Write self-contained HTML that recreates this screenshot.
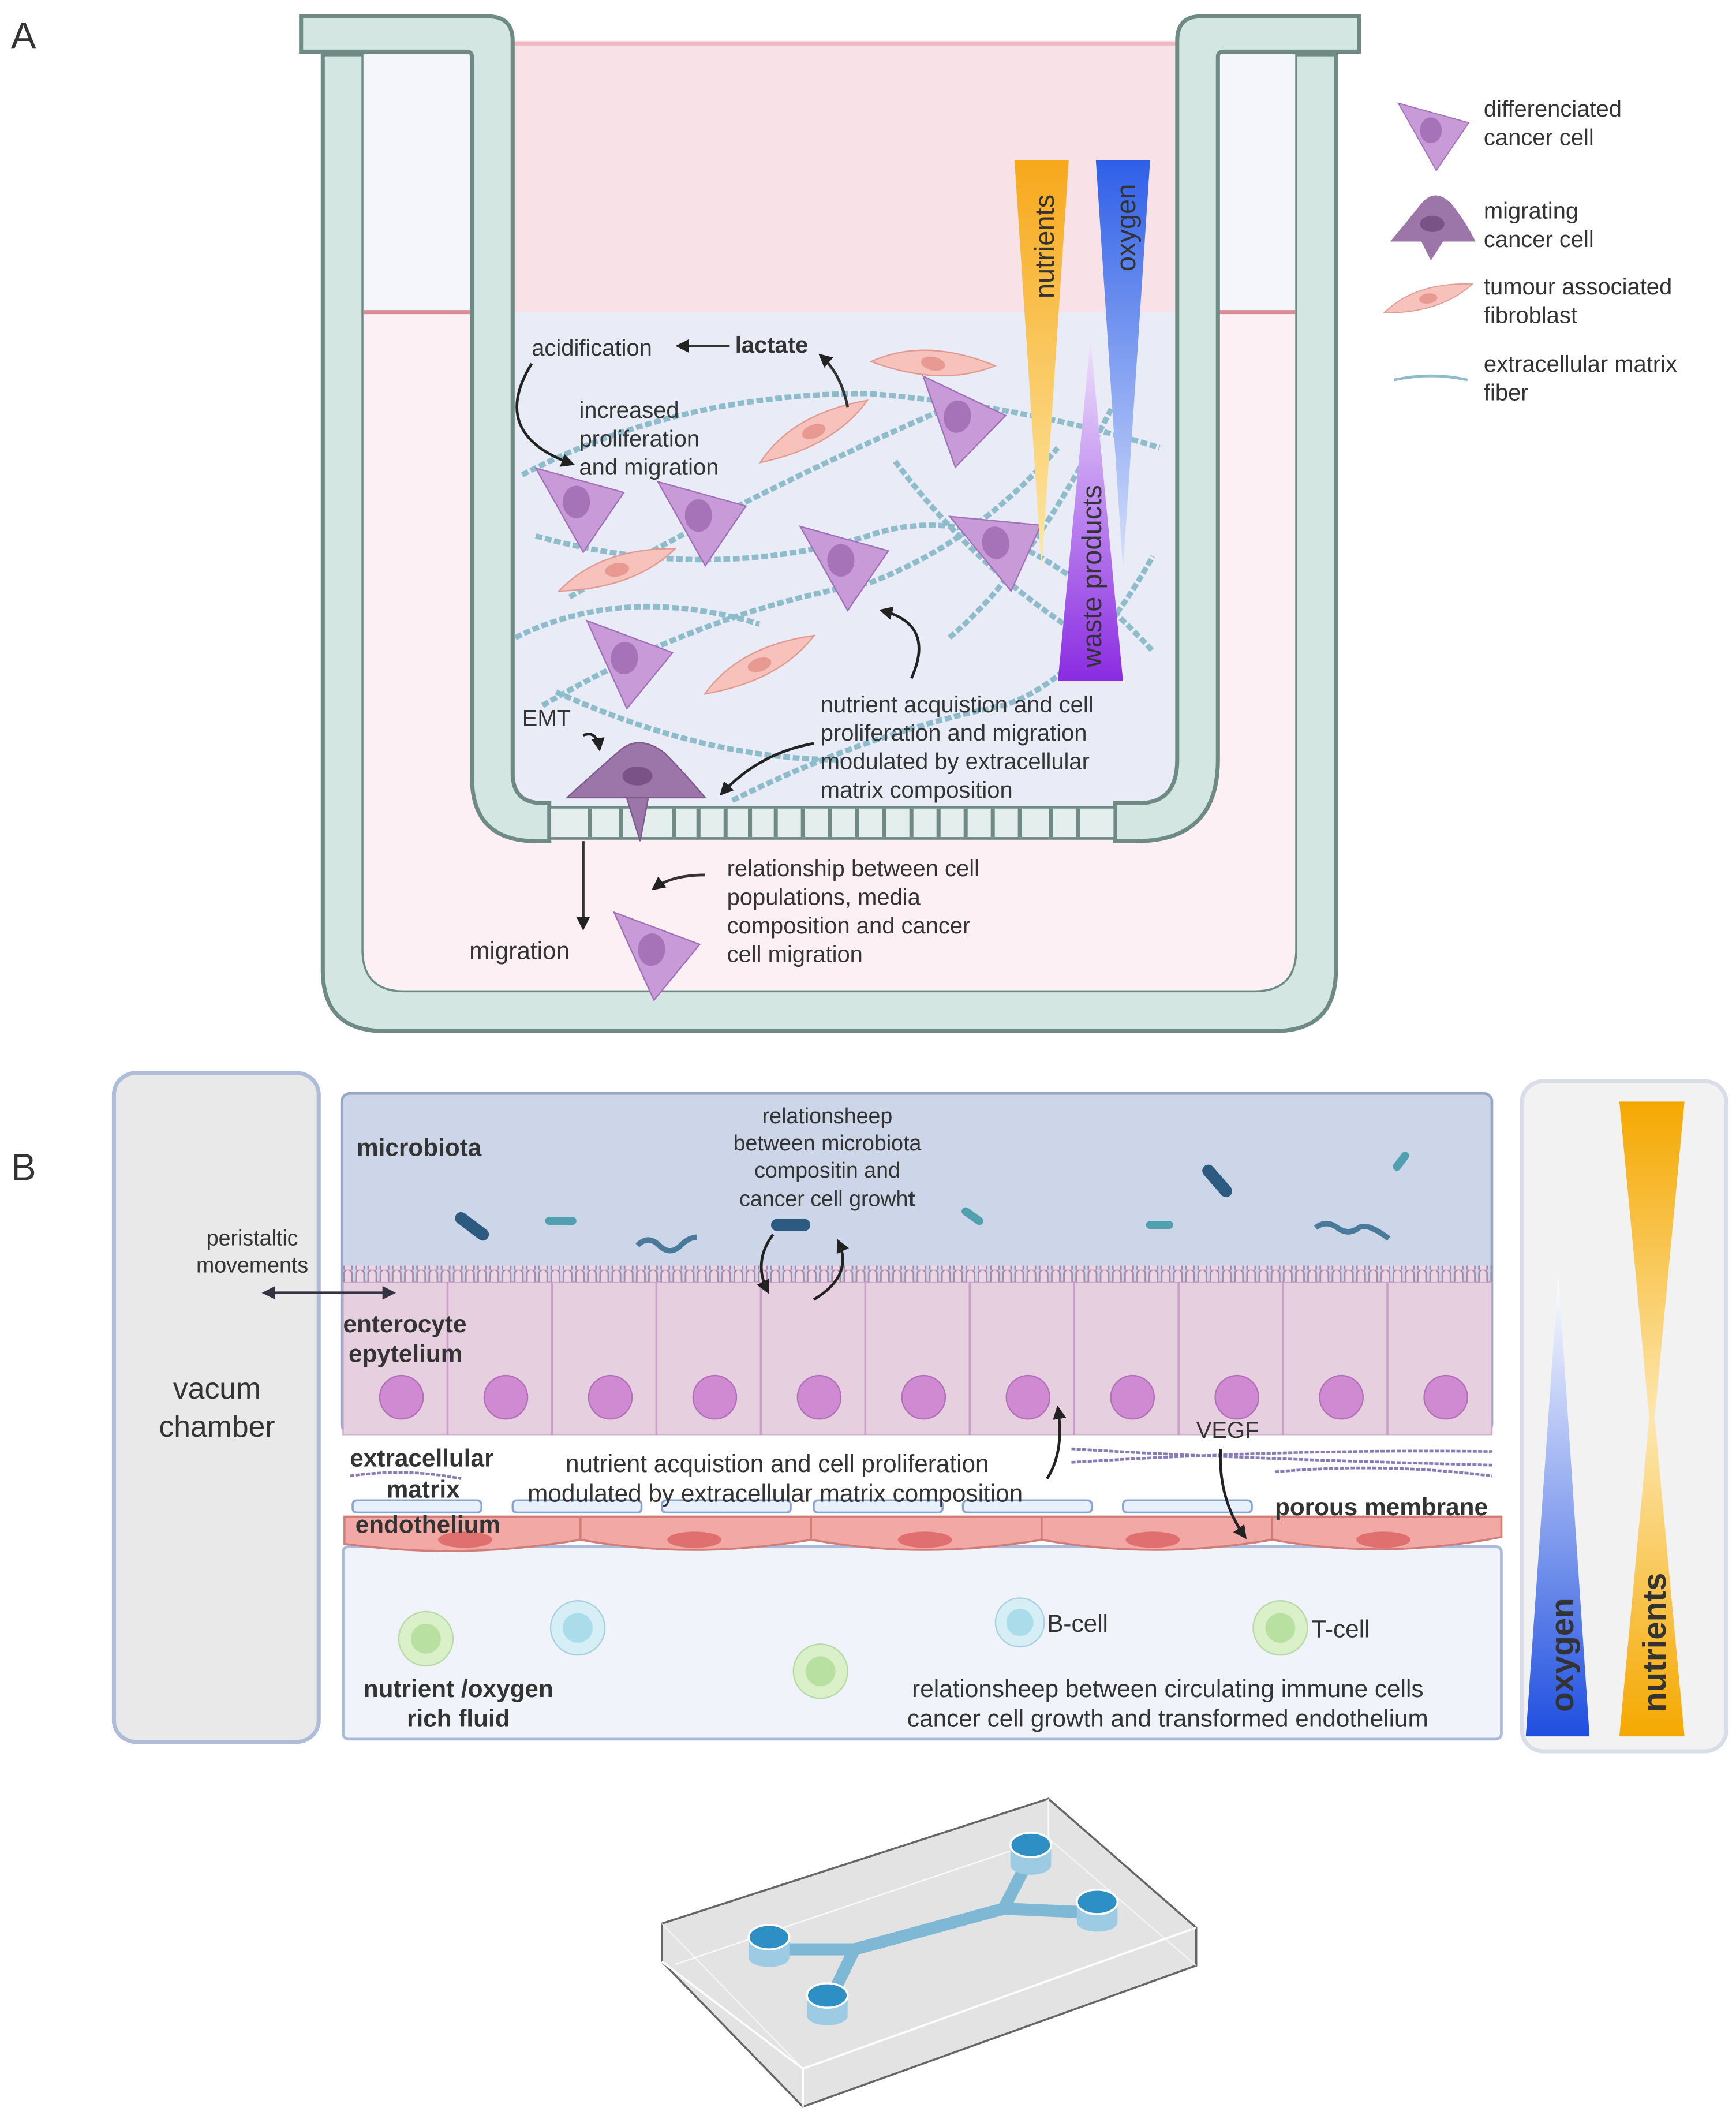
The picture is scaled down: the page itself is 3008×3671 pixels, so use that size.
<!DOCTYPE html>
<html><head><meta charset="utf-8"><style>
html,body{margin:0;padding:0;background:#fff}
svg{display:block}
text{font-family:"Liberation Sans",sans-serif;fill:#333}
</style></head><body>
<svg width="3008" height="3671" viewBox="0 0 1280 1562" xmlns="http://www.w3.org/2000/svg">
<defs>
<linearGradient id="gy" x1="0" y1="0" x2="0" y2="1"><stop offset="0" stop-color="#f7a81b"/><stop offset="1" stop-color="#fde9a8"/></linearGradient>
<linearGradient id="gb" x1="0" y1="0" x2="0" y2="1"><stop offset="0" stop-color="#2e5fe8"/><stop offset="1" stop-color="#d8e2fb"/></linearGradient>
<linearGradient id="gp" x1="0" y1="1" x2="0" y2="0"><stop offset="0" stop-color="#8a2be2"/><stop offset="1" stop-color="#efe3fb"/></linearGradient>
<linearGradient id="gb2" x1="0" y1="1" x2="0" y2="0"><stop offset="0" stop-color="#1f4fe0"/><stop offset="1" stop-color="#ffffff"/></linearGradient>
<linearGradient id="gy2" x1="0" y1="0" x2="0" y2="1"><stop offset="0" stop-color="#f5a800"/><stop offset="0.5" stop-color="#fde7b0"/><stop offset="1" stop-color="#f5a800"/></linearGradient>
<marker id="ar" viewBox="0 0 10 10" refX="8" refY="5" markerWidth="5" markerHeight="5" orient="auto"><path d="M0,0L10,5L0,10z" fill="#222"/></marker>
<marker id="ar2" viewBox="0 0 10 10" refX="8" refY="5" markerWidth="5" markerHeight="5" orient="auto-start-reverse"><path d="M0,0L10,5L0,10z" fill="#334"/></marker>
<g id="cc"><path d="M-30,-30 L35,-12 L5,32 Z" fill="#c99ad8" stroke="#a070b8" stroke-width="1"/><ellipse cx="0" cy="-5" rx="10" ry="12" fill="#a672b8"/></g>
<g id="fb"><path d="M-45,8 Q-10,-18 45,-8 Q10,16 -45,8Z" fill="#f6c2bb" stroke="#e09a92"/><ellipse cx="0" cy="0" rx="9" ry="5" fill="#e89a92"/></g>
<pattern id="villi" width="9" height="12" patternUnits="userSpaceOnUse"><path d="M1.5,12 V3 A3,3 0 0 1 7.5,3 V12" fill="#ead6e4" stroke="#a887a8" stroke-width="1.2"/></pattern>
</defs>

<text x="8" y="36" font-size="28" fill="#222">A</text>

<!-- outer well -->
<path d="M238,40 L238,715 Q238,760 283,760 L940,760 Q985,760 985,715 L985,40 L955,40 L955,700 Q955,730 925,730 L298,730 Q268,730 268,700 L268,40 Z" fill="#d3e6e2" stroke="#6f8a85" stroke-width="3"/>
<rect x="268" y="40" width="687" height="190" fill="#f4f6fb"/>
<path d="M268,230 L955,230 L955,700 Q955,730 925,730 L298,730 Q268,730 268,700Z" fill="#fcf0f5"/>
<line x1="268" y1="230" x2="955" y2="230" stroke="#d98a94" stroke-width="3"/>

<!-- insert inside -->
<path d="M378,30 L868,30 L868,570 Q868,595 845,595 L395,595 Q378,595 378,580Z" fill="#e9ecf7"/>
<rect x="378" y="30" width="490" height="200" fill="#f9e2e7"/>
<line x1="378" y1="32" x2="868" y2="32" stroke="#f0b8c0" stroke-width="3"/>
<!-- insert walls -->
<path d="M222,12 L360,12 Q378,12 378,30 L378,570 Q378,592 400,592 L405,592 L405,620 L395,620 Q348,620 348,573 L348,42 Q348,38 344,38 L222,38Z" fill="#d3e6e2" stroke="#6f8a85" stroke-width="3"/>
<path d="M1002,12 L885,12 Q868,12 868,30 L868,560 Q868,592 840,592 L822,592 L822,620 L838,620 Q898,620 898,560 L898,42 Q898,38 902,38 L1002,38Z" fill="#d3e6e2" stroke="#6f8a85" stroke-width="3"/>
<!-- membrane -->
<rect x="405" y="595" width="417" height="23" fill="#e4eeec" stroke="#6f8a85" stroke-width="2"/>
<g stroke="#6f8a85" stroke-width="3">
<line x1="435" y1="596" x2="435" y2="617"/><line x1="458" y1="596" x2="458" y2="617"/><line x1="497" y1="596" x2="497" y2="617"/><line x1="515" y1="596" x2="515" y2="617"/><line x1="535" y1="596" x2="535" y2="617"/><line x1="553" y1="596" x2="553" y2="617"/><line x1="572" y1="596" x2="572" y2="617"/><line x1="592" y1="596" x2="592" y2="617"/><line x1="612" y1="596" x2="612" y2="617"/><line x1="632" y1="596" x2="632" y2="617"/><line x1="652" y1="596" x2="652" y2="617"/><line x1="672" y1="596" x2="672" y2="617"/><line x1="692" y1="596" x2="692" y2="617"/><line x1="712" y1="596" x2="712" y2="617"/><line x1="732" y1="596" x2="732" y2="617"/><line x1="752" y1="596" x2="752" y2="617"/><line x1="775" y1="596" x2="775" y2="617"/><line x1="795" y1="596" x2="795" y2="617"/>
</g>

<!-- fibers -->
<g stroke="#8fbccb" stroke-width="4" stroke-dasharray="5,2" fill="none">
<path d="M385,350 Q500,290 640,290 Q760,300 855,330"/>
<path d="M395,395 Q520,430 640,395 Q740,360 850,480"/>
<path d="M420,440 Q560,360 700,300"/>
<path d="M400,520 Q520,450 640,430 Q720,400 780,330"/>
<path d="M660,340 Q720,420 800,470"/>
<path d="M380,470 Q460,430 560,460"/>
<path d="M540,590 Q640,540 740,520 Q800,500 850,410"/>
<path d="M410,510 Q520,560 620,560"/>
<path d="M700,470 Q760,420 820,300"/>
</g>
<use href="#fb" transform="translate(688,268) rotate(12)"/>
<use href="#fb" transform="translate(600,318) rotate(-20)"/>
<use href="#fb" transform="translate(455,420) rotate(-10)"/>
<use href="#fb" transform="translate(560,490) rotate(-18)"/>
<use href="#cc" transform="translate(425,375)"/>
<use href="#cc" transform="translate(515,385)"/>
<use href="#cc" transform="translate(620,418)"/>
<use href="#cc" transform="translate(735,405) rotate(-10)"/>
<use href="#cc" transform="translate(705,312) rotate(10)"/>
<use href="#cc" transform="translate(460,490) rotate(5)"/>
<use href="#cc" transform="translate(480,705) rotate(5)"/>
<path d="M418,588 Q440,568 455,555 Q470,540 490,555 Q505,570 520,588 Z M462,588 L478,588 L472,620 Z" fill="#9c76a8" stroke="#7d5a8a"/>
<ellipse cx="470" cy="572" rx="11" ry="7" fill="#7a5288"/>

<path d="M748,118 L788,118 L768,420Z" fill="url(#gy)"/>
<path d="M808,118 L848,118 L828,420Z" fill="url(#gb)"/>
<path d="M780,502 L828,502 L804,250Z" fill="url(#gp)"/>
<text transform="translate(777,220) rotate(-90)" font-size="20" fill="#fff">nutrients</text>
<text transform="translate(837,200) rotate(-90)" font-size="20" fill="#fff">oxygen</text>
<text transform="translate(812,492) rotate(-90)" font-size="20" fill="#fff">waste products</text>

<text x="392" y="262" font-size="17">acidification</text>
<text x="542" y="260" font-size="17" font-weight="bold">lactate</text>
<line x1="538" y1="255" x2="500" y2="255" stroke="#333" stroke-width="2" marker-end="url(#ar)"/>
<path d="M625,300 Q620,275 605,262" stroke="#333" stroke-width="2" fill="none" marker-end="url(#ar)"/>
<text x="427" y="308" font-size="17">increased</text>
<text x="427" y="329" font-size="17">proliferation</text>
<text x="427" y="350" font-size="17">and migration</text>
<path d="M392,268 Q360,320 422,342" stroke="#222" stroke-width="2" fill="none" marker-end="url(#ar)"/>
<text x="385" y="535" font-size="17">EMT</text>
<path d="M430,542 Q440,538 442,552" stroke="#222" stroke-width="2" fill="none" marker-end="url(#ar)"/>
<text x="605" y="525" font-size="17">nutrient  acquistion  and  cell</text>
<text x="605" y="546" font-size="17">proliferation    and    migration</text>
<text x="605" y="567" font-size="17">modulated    by    extracellular</text>
<text x="605" y="588" font-size="17">matrix composition</text>
<path d="M672,500 Q690,460 650,450" stroke="#222" stroke-width="2" fill="none" marker-end="url(#ar)"/>
<path d="M600,548 Q560,555 532,585" stroke="#222" stroke-width="2" fill="none" marker-end="url(#ar)"/>
<line x1="430" y1="620" x2="430" y2="684" stroke="#333" stroke-width="2" marker-end="url(#ar)"/>
<text x="346" y="707" font-size="18">migration</text>
<path d="M520,645 Q495,645 482,655" stroke="#333" stroke-width="2" fill="none" marker-end="url(#ar)"/>
<text x="536" y="646" font-size="17">relationship   between   cell</text>
<text x="536" y="667" font-size="17">populations,                media</text>
<text x="536" y="688" font-size="17">composition    and    cancer</text>
<text x="536" y="709" font-size="17">cell migration</text>

<use href="#cc" transform="translate(1055,100) scale(0.8)"/>
<text x="1094" y="86" font-size="17">differenciated</text>
<text x="1094" y="107" font-size="17">cancer cell</text>
<path d="M1025,178 Q1040,160 1048,150 Q1058,138 1070,150 Q1080,162 1088,178Z M1048,178 L1064,178 L1055,192Z" fill="#9c76a8"/>
<ellipse cx="1056" cy="165" rx="9" ry="6" fill="#7a5288"/>
<text x="1094" y="161" font-size="17">migrating</text>
<text x="1094" y="182" font-size="17">cancer cell</text>
<use href="#fb" transform="translate(1053,220) rotate(-8) scale(0.75)"/>
<text x="1094" y="217" font-size="17">tumour associated</text>
<text x="1094" y="238" font-size="17">fibroblast</text>
<path d="M1028,280 Q1055,274 1082,280" stroke="#8fbccb" stroke-width="2" fill="none"/>
<text x="1094" y="274" font-size="17">extracellular matrix</text>
<text x="1094" y="295" font-size="17">fiber</text>

<!-- Panel B -->
<text x="8" y="870" font-size="28" fill="#222">B</text>
<rect x="84" y="791" width="151" height="493" rx="16" fill="#e9e9e9" stroke="#aebcda" stroke-width="3"/>
<text x="160" y="1031" font-size="22" text-anchor="middle">vacum</text>
<text x="160" y="1059" font-size="22" text-anchor="middle">chamber</text>
<rect x="1122" y="797" width="151" height="494" rx="16" fill="#f2f2f2" stroke="#d8dde8" stroke-width="3"/>
<path d="M1125,1280 L1172,1280 L1149,940Z" fill="url(#gb2)"/>
<path d="M1194,812 L1242,812 L1220,1045 L1242,1280 L1194,1280 L1216,1045Z" fill="url(#gy2)"/>
<text transform="translate(1160,1262) rotate(-90)" font-size="24" font-weight="bold" fill="#fff">oxygen</text>
<text transform="translate(1228,1262) rotate(-90)" font-size="24" font-weight="bold" fill="#fff">nutrients</text>

<rect x="252" y="806" width="848" height="250" rx="6" fill="#cdd6e8" stroke="#9aa8c8" stroke-width="2"/>
<rect x="253" y="1140" width="854" height="142" rx="4" fill="#f0f4fa" stroke="#aabada" stroke-width="2"/>
<rect x="253" y="945" width="847" height="113" fill="#e6cfdf" stroke="#c8a8c8"/>
<rect x="253" y="933" width="847" height="12" fill="url(#villi)"/>
<g stroke="#c8a0c8" stroke-width="1.5">
<line x1="330" y1="945" x2="330" y2="1058"/><line x1="407" y1="945" x2="407" y2="1058"/><line x1="484" y1="945" x2="484" y2="1058"/><line x1="561" y1="945" x2="561" y2="1058"/><line x1="638" y1="945" x2="638" y2="1058"/><line x1="715" y1="945" x2="715" y2="1058"/><line x1="792" y1="945" x2="792" y2="1058"/><line x1="869" y1="945" x2="869" y2="1058"/><line x1="946" y1="945" x2="946" y2="1058"/><line x1="1023" y1="945" x2="1023" y2="1058"/>
</g>
<g fill="#cf8ad2" stroke="#b070b8">
<circle cx="296" cy="1030" r="16"/><circle cx="373" cy="1030" r="16"/><circle cx="450" cy="1030" r="16"/><circle cx="527" cy="1030" r="16"/><circle cx="604" cy="1030" r="16"/><circle cx="681" cy="1030" r="16"/><circle cx="758" cy="1030" r="16"/><circle cx="835" cy="1030" r="16"/><circle cx="912" cy="1030" r="16"/><circle cx="989" cy="1030" r="16"/><circle cx="1066" cy="1030" r="16"/>
</g>
<rect x="253" y="1058" width="854" height="50" fill="#fff"/>
<g stroke="#8a7ab8" stroke-width="2" stroke-dasharray="3,1" fill="none">
<path d="M790,1068 Q900,1075 1100,1080"/><path d="M790,1078 Q950,1068 1100,1070"/><path d="M940,1085 Q1020,1078 1100,1088"/><path d="M258,1088 Q300,1082 340,1090"/>
</g>
<g fill="#e8f0fb" stroke="#8aa4d0" stroke-width="1.5">
<rect x="260" y="1106" width="95" height="9" rx="3"/><rect x="378" y="1106" width="95" height="9" rx="3"/><rect x="488" y="1106" width="95" height="9" rx="3"/><rect x="600" y="1106" width="95" height="9" rx="3"/><rect x="710" y="1106" width="95" height="9" rx="3"/><rect x="828" y="1106" width="95" height="9" rx="3"/>
</g>
<g fill="#f2a9a6" stroke="#d07d7a" stroke-width="1.5">
<path d="M254,1118 H428 V1135 Q340,1150 254,1138Z"/>
<path d="M428,1118 H598 V1135 Q510,1150 428,1135Z"/>
<path d="M598,1118 H768 V1135 Q680,1150 598,1135Z"/>
<path d="M768,1118 H938 V1135 Q850,1150 768,1135Z"/>
<path d="M938,1118 H1107 V1133 Q1020,1150 938,1135Z"/>
</g>
<g fill="#e07070"><ellipse cx="343" cy="1135" rx="20" ry="6"/><ellipse cx="512" cy="1135" rx="20" ry="6"/><ellipse cx="682" cy="1135" rx="20" ry="6"/><ellipse cx="850" cy="1135" rx="20" ry="6"/><ellipse cx="1020" cy="1135" rx="20" ry="6"/></g>
<g><circle cx="314" cy="1208" r="20" fill="#d9f0c8" stroke="#b8d8a8"/><circle cx="314" cy="1208" r="11" fill="#b8e0a0"/></g>
<g><circle cx="426" cy="1200" r="20" fill="#d6eef6" stroke="#aad0e0"/><circle cx="426" cy="1200" r="11" fill="#aadcea"/></g>
<g><circle cx="605" cy="1232" r="20" fill="#d9f0c8" stroke="#b8d8a8"/><circle cx="605" cy="1232" r="11" fill="#b8e0a0"/></g>
<g><circle cx="752" cy="1196" r="18" fill="#d6eef6" stroke="#aad0e0"/><circle cx="752" cy="1196" r="10" fill="#aadcea"/></g>
<g><circle cx="944" cy="1200" r="20" fill="#d9f0c8" stroke="#b8d8a8"/><circle cx="944" cy="1200" r="11" fill="#b8e0a0"/></g>
<g stroke="#2d5a80" stroke-width="9" stroke-linecap="round"><line x1="340" y1="898" x2="356" y2="910"/><line x1="573" y1="903" x2="593" y2="903"/><line x1="891" y1="863" x2="904" y2="878"/></g>
<g stroke="#50a0b0" stroke-width="6" stroke-linecap="round"><line x1="712" y1="893" x2="722" y2="900"/><line x1="1030" y1="860" x2="1036" y2="852"/><line x1="405" y1="900" x2="422" y2="900"/><line x1="848" y1="903" x2="862" y2="903"/></g>
<g stroke="#4a7a9a" stroke-width="4" fill="none"><path d="M470,918 q8,-8 16,0 q8,8 16,0 q6,-6 12,-6"/><path d="M970,905 q8,-6 16,0 q8,6 16,0 q6,-4 22,8"/></g>
<text x="263" y="852" font-size="18" font-weight="bold" fill="#222">microbiota</text>
<text x="610" y="828" font-size="16" text-anchor="middle">relationsheep</text>
<text x="610" y="848" font-size="16" text-anchor="middle">between microbiota</text>
<text x="610" y="868" font-size="16" text-anchor="middle">compositin and</text>
<text x="610" y="889" font-size="16" text-anchor="middle">cancer cell growh<tspan font-weight="bold">t</tspan></text>
<path d="M570,910 Q555,930 566,952" stroke="#222" stroke-width="2" fill="none" marker-end="url(#ar)"/>
<path d="M600,958 Q630,940 618,915" stroke="#222" stroke-width="2" fill="none" marker-end="url(#ar)"/>
<text x="186" y="918" font-size="16" text-anchor="middle">peristaltic</text>
<text x="186" y="938" font-size="16" text-anchor="middle">movements</text>
<line x1="195" y1="953" x2="290" y2="953" stroke="#334" stroke-width="2" marker-start="url(#ar2)" marker-end="url(#ar2)"/>
<text x="253" y="982" font-size="18" font-weight="bold" fill="#222">enterocyte</text>
<text x="257" y="1004" font-size="18" font-weight="bold" fill="#222">epytelium</text>
<text x="258" y="1081" font-size="18" font-weight="bold" fill="#222">extracellular</text>
<text x="285" y="1104" font-size="18" font-weight="bold" fill="#222">matrix</text>
<text x="262" y="1130" font-size="18" font-weight="bold" fill="#222">endothelium</text>
<text x="417" y="1085" font-size="18">nutrient acquistion and cell proliferation</text>
<text x="389" y="1107" font-size="18">modulated by extracellular matrix composition</text>
<path d="M772,1090 Q785,1070 780,1038" stroke="#222" stroke-width="2" fill="none" marker-end="url(#ar)"/>
<text x="882" y="1060" font-size="17">VEGF</text>
<path d="M900,1068 Q898,1105 918,1133" stroke="#222" stroke-width="2" fill="none" marker-end="url(#ar)"/>
<text x="940" y="1117" font-size="18" font-weight="bold" fill="#222">porous membrane</text>
<text x="772" y="1203" font-size="18">B-cell</text>
<text x="967" y="1207" font-size="18">T-cell</text>
<text x="338" y="1251" font-size="18" font-weight="bold" fill="#222" text-anchor="middle">nutrient /oxygen</text>
<text x="338" y="1273" font-size="18" font-weight="bold" fill="#222" text-anchor="middle">rich fluid</text>
<text x="861" y="1251" font-size="18" text-anchor="middle">relationsheep between circulating immune cells</text>
<text x="861" y="1273" font-size="18" text-anchor="middle">cancer cell growth and transformed endothelium</text>

<!-- chip -->
<path d="M488,1418 L773,1326 L882,1421 L882,1449 L592,1553 L488,1446Z" fill="#e3e3e3" stroke="#666" stroke-width="1.5"/>
<path d="M488,1446 L592,1525 L882,1421" fill="none" stroke="#fff" stroke-width="1.5"/>
<path d="M592,1525 L592,1553" stroke="#fff" stroke-width="1.5"/>
<path d="M488,1418 L592,1525" fill="none" stroke="#fff" stroke-width="1" opacity="0.6"/>
<path d="M773,1326 L773,1355 L498,1448" fill="none" stroke="#fff" stroke-width="1" opacity="0.8"/>
<path d="M773,1355 L882,1449" fill="none" stroke="#fff" stroke-width="1" opacity="0.6"/>
<g stroke="#7fb8d4" stroke-width="9" fill="none">
<path d="M567,1437 L630,1437 L740,1407 L760,1368"/><path d="M740,1407 L809,1410"/><path d="M630,1437 L610,1478"/>
</g>
<g fill="#9ccbe3"><rect x="552" y="1428" width="30" height="14"/><rect x="745" y="1360" width="30" height="14"/><rect x="794" y="1402" width="30" height="14"/><rect x="595" y="1471" width="30" height="14"/></g>
<g fill="#9ccbe3"><ellipse cx="567" cy="1443" rx="15" ry="7"/><ellipse cx="760" cy="1375" rx="15" ry="7"/><ellipse cx="809" cy="1417" rx="15" ry="7"/><ellipse cx="610" cy="1486" rx="15" ry="7"/></g>
<g fill="#2e8fc4" stroke="#fff" stroke-width="1.5">
<ellipse cx="567" cy="1428" rx="15" ry="9"/><ellipse cx="760" cy="1360" rx="15" ry="9"/><ellipse cx="809" cy="1402" rx="15" ry="9"/><ellipse cx="610" cy="1471" rx="15" ry="9"/>
</g>
</svg>
</body></html>
